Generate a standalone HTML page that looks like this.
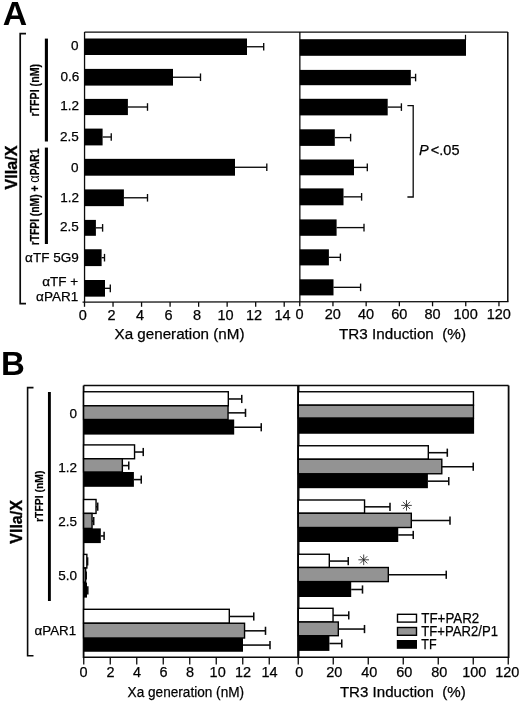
<!DOCTYPE html>
<html lang="en"><head><meta charset="utf-8"><title>Figure</title>
<style>
html,body{margin:0;padding:0;background:#fff;}
svg{display:block;font-family:'Liberation Sans', Arial, Helvetica, sans-serif;fill:#000;}
</style></head>
<body>
<svg width="520" height="703" viewBox="0 0 520 703" font-family='&quot;Liberation Sans&quot;, Arial, Helvetica, sans-serif'>
<rect x="0" y="0" width="520" height="703" fill="#fff" stroke="none"/>
<text x="2.7" y="24.8" font-size="33.8" font-weight="bold">A</text>
<polyline points="26,33.7 20.2,33.7 20.2,303.6 26,303.6" fill="none" stroke="#0a0a0a" stroke-width="1.7"/>
<line x1="46.4" y1="38.6" x2="46.4" y2="141.5" stroke="#000" stroke-width="3.1"/>
<line x1="46.4" y1="147.6" x2="46.4" y2="244" stroke="#000" stroke-width="3.1"/>
<text x="16.6" y="189.4" font-size="16" font-weight="bold" textLength="43.8" lengthAdjust="spacingAndGlyphs" transform="rotate(-90 16.6 189.4)" stroke="#000" stroke-width="0.35">VIIa/X</text>
<text x="39.3" y="116.6" font-size="12" font-weight="bold" textLength="52.7" lengthAdjust="spacingAndGlyphs" transform="rotate(-90 39.3 116.6)" stroke="#000" stroke-width="0.2">rTFPI (nM)</text>
<text x="39.4" y="245.3" font-size="12" font-weight="bold" textLength="96.8" lengthAdjust="spacingAndGlyphs" transform="rotate(-90 39.4 245.3)" stroke="#000" stroke-width="0.2">rTFPI (nM) + <tspan font-weight="normal" stroke="none" font-size="15">α</tspan>PAR1</text>
<text x="78.4" y="50" font-size="13.5" text-anchor="end" stroke="#000" stroke-width="0.25">0</text>
<text x="79.2" y="81" font-size="13.5" text-anchor="end" stroke="#000" stroke-width="0.25">0.6</text>
<text x="79.0" y="110" font-size="13.5" text-anchor="end" stroke="#000" stroke-width="0.25">1.2</text>
<text x="78.9" y="141.0" font-size="13.5" text-anchor="end" stroke="#000" stroke-width="0.25">2.5</text>
<text x="78.4" y="172.4" font-size="13.5" text-anchor="end" stroke="#000" stroke-width="0.25">0</text>
<text x="79.0" y="202" font-size="13.5" text-anchor="end" stroke="#000" stroke-width="0.25">1.2</text>
<text x="78.9" y="231.4" font-size="13.5" text-anchor="end" stroke="#000" stroke-width="0.25">2.5</text>
<text x="78.7" y="261.7" font-size="13.5" text-anchor="end" stroke="#000" stroke-width="0.25">αTF 5G9</text>
<text x="78.2" y="286.2" font-size="13.5" text-anchor="end" stroke="#000" stroke-width="0.25">αTF +</text>
<text x="78.2" y="300.8" font-size="13.5" text-anchor="end" stroke="#000" stroke-width="0.25">αPAR1</text>
<line x1="84.55" y1="32.1" x2="507.8" y2="32.1" stroke="#0a0a0a" stroke-width="1.3"/>
<line x1="84.55" y1="32.1" x2="84.55" y2="302.1" stroke="#0a0a0a" stroke-width="1.3"/>
<line x1="507.8" y1="32.1" x2="507.8" y2="301.6" stroke="#0a0a0a" stroke-width="1.5"/>
<line x1="82.55" y1="302.1" x2="508.5" y2="301.6" stroke="#0a0a0a" stroke-width="1.3"/>
<line x1="299.85" y1="32.1" x2="299.85" y2="302.1" stroke="#0a0a0a" stroke-width="1.3"/>
<rect x="84.55" y="38.50" width="162.45" height="16.50" fill="#000"/>
<line x1="247" y1="46.75" x2="263.7" y2="46.75" stroke="#0a0a0a" stroke-width="1.35"/>
<line x1="263.7" y1="42.95" x2="263.7" y2="50.55" stroke="#0a0a0a" stroke-width="1.35"/>
<rect x="84.55" y="68.90" width="88.45" height="16.70" fill="#000"/>
<line x1="173" y1="77.25" x2="200.5" y2="77.25" stroke="#0a0a0a" stroke-width="1.35"/>
<line x1="200.5" y1="73.45" x2="200.5" y2="81.05" stroke="#0a0a0a" stroke-width="1.35"/>
<rect x="84.55" y="98.90" width="43.35" height="16.20" fill="#000"/>
<line x1="127.9" y1="107.0" x2="147.5" y2="107.0" stroke="#0a0a0a" stroke-width="1.35"/>
<line x1="147.5" y1="103.2" x2="147.5" y2="110.8" stroke="#0a0a0a" stroke-width="1.35"/>
<rect x="84.55" y="128.60" width="18.05" height="16.80" fill="#000"/>
<line x1="102.6" y1="137.0" x2="111.25" y2="137.0" stroke="#0a0a0a" stroke-width="1.35"/>
<line x1="111.25" y1="133.2" x2="111.25" y2="140.8" stroke="#0a0a0a" stroke-width="1.35"/>
<rect x="84.55" y="158.85" width="150.45" height="16.85" fill="#000"/>
<line x1="235" y1="167.27499999999998" x2="266.8" y2="167.27499999999998" stroke="#0a0a0a" stroke-width="1.35"/>
<line x1="266.8" y1="163.47499999999997" x2="266.8" y2="171.075" stroke="#0a0a0a" stroke-width="1.35"/>
<rect x="84.55" y="189.40" width="39.35" height="16.75" fill="#000"/>
<line x1="123.9" y1="197.775" x2="147.5" y2="197.775" stroke="#0a0a0a" stroke-width="1.35"/>
<line x1="147.5" y1="193.975" x2="147.5" y2="201.57500000000002" stroke="#0a0a0a" stroke-width="1.35"/>
<rect x="84.55" y="219.90" width="11.35" height="15.90" fill="#000"/>
<line x1="95.9" y1="227.85000000000002" x2="102.6" y2="227.85000000000002" stroke="#0a0a0a" stroke-width="1.35"/>
<line x1="102.6" y1="224.05" x2="102.6" y2="231.65000000000003" stroke="#0a0a0a" stroke-width="1.35"/>
<rect x="84.55" y="249.25" width="17.05" height="16.85" fill="#000"/>
<line x1="101.6" y1="257.675" x2="104.5" y2="257.675" stroke="#0a0a0a" stroke-width="1.35"/>
<line x1="104.5" y1="253.875" x2="104.5" y2="261.475" stroke="#0a0a0a" stroke-width="1.35"/>
<rect x="84.55" y="280.00" width="20.45" height="16.65" fill="#000"/>
<line x1="105" y1="288.325" x2="110.3" y2="288.325" stroke="#0a0a0a" stroke-width="1.35"/>
<line x1="110.3" y1="284.525" x2="110.3" y2="292.125" stroke="#0a0a0a" stroke-width="1.35"/>
<rect x="299.85" y="39.20" width="166.15" height="16.60" fill="#000"/>
<rect x="299.85" y="69.90" width="110.95" height="15.30" fill="#000"/>
<line x1="410.8" y1="77.55000000000001" x2="415.6" y2="77.55000000000001" stroke="#0a0a0a" stroke-width="1.35"/>
<line x1="415.6" y1="73.75000000000001" x2="415.6" y2="81.35000000000001" stroke="#0a0a0a" stroke-width="1.35"/>
<rect x="299.85" y="98.80" width="87.85" height="16.60" fill="#000"/>
<line x1="387.7" y1="107.1" x2="401.4" y2="107.1" stroke="#0a0a0a" stroke-width="1.35"/>
<line x1="401.4" y1="103.3" x2="401.4" y2="110.89999999999999" stroke="#0a0a0a" stroke-width="1.35"/>
<rect x="299.85" y="129.30" width="34.95" height="16.60" fill="#000"/>
<line x1="334.8" y1="137.60000000000002" x2="350.6" y2="137.60000000000002" stroke="#0a0a0a" stroke-width="1.35"/>
<line x1="350.6" y1="133.8" x2="350.6" y2="141.40000000000003" stroke="#0a0a0a" stroke-width="1.35"/>
<rect x="299.85" y="159.50" width="54.15" height="15.80" fill="#000"/>
<line x1="354" y1="167.4" x2="367.3" y2="167.4" stroke="#0a0a0a" stroke-width="1.35"/>
<line x1="367.3" y1="163.6" x2="367.3" y2="171.20000000000002" stroke="#0a0a0a" stroke-width="1.35"/>
<rect x="299.85" y="188.40" width="43.65" height="16.90" fill="#000"/>
<line x1="343.5" y1="196.85000000000002" x2="361.6" y2="196.85000000000002" stroke="#0a0a0a" stroke-width="1.35"/>
<line x1="361.6" y1="193.05" x2="361.6" y2="200.65000000000003" stroke="#0a0a0a" stroke-width="1.35"/>
<rect x="299.85" y="219.40" width="36.75" height="16.40" fill="#000"/>
<line x1="336.6" y1="227.60000000000002" x2="364" y2="227.60000000000002" stroke="#0a0a0a" stroke-width="1.35"/>
<line x1="364" y1="223.8" x2="364" y2="231.40000000000003" stroke="#0a0a0a" stroke-width="1.35"/>
<rect x="299.85" y="249.30" width="29.05" height="16.10" fill="#000"/>
<line x1="328.9" y1="257.35" x2="340.4" y2="257.35" stroke="#0a0a0a" stroke-width="1.35"/>
<line x1="340.4" y1="253.55" x2="340.4" y2="261.15000000000003" stroke="#0a0a0a" stroke-width="1.35"/>
<rect x="299.85" y="279.30" width="33.65" height="16.10" fill="#000"/>
<line x1="333.5" y1="287.35" x2="360.6" y2="287.35" stroke="#0a0a0a" stroke-width="1.35"/>
<line x1="360.6" y1="283.55" x2="360.6" y2="291.15000000000003" stroke="#0a0a0a" stroke-width="1.35"/>
<line x1="465.5" y1="34.8" x2="465.5" y2="40" stroke="#0a0a0a" stroke-width="1.2"/>
<polyline points="407.4,105.7 413.2,105.7 413.2,197 407.4,197" fill="none" stroke="#0a0a0a" stroke-width="1.3"/>
<text x="419" y="154.8" font-size="14.5" stroke="#000" stroke-width="0.25"><tspan font-style="italic">P</tspan><tspan dx="2.2">&lt;.05</tspan></text>
<line x1="84.5" y1="302.1" x2="84.5" y2="306.8" stroke="#0a0a0a" stroke-width="1.3"/>
<text x="82.9" y="320.0" font-size="14.5" text-anchor="middle" stroke="#000" stroke-width="0.25">0</text>
<line x1="113.03" y1="302.1" x2="113.03" y2="306.8" stroke="#0a0a0a" stroke-width="1.3"/>
<text x="111.43" y="319.94" font-size="14.5" text-anchor="middle" stroke="#000" stroke-width="0.25">2</text>
<line x1="141.56" y1="302.1" x2="141.56" y2="306.8" stroke="#0a0a0a" stroke-width="1.3"/>
<text x="139.96" y="319.88" font-size="14.5" text-anchor="middle" stroke="#000" stroke-width="0.25">4</text>
<line x1="170.09" y1="302.1" x2="170.09" y2="306.8" stroke="#0a0a0a" stroke-width="1.3"/>
<text x="168.49" y="319.83" font-size="14.5" text-anchor="middle" stroke="#000" stroke-width="0.25">6</text>
<line x1="198.62" y1="302.1" x2="198.62" y2="306.8" stroke="#0a0a0a" stroke-width="1.3"/>
<text x="197.02" y="319.77" font-size="14.5" text-anchor="middle" stroke="#000" stroke-width="0.25">8</text>
<line x1="227.15" y1="302.1" x2="227.15" y2="306.8" stroke="#0a0a0a" stroke-width="1.3"/>
<text x="225.55" y="319.71" font-size="14.5" text-anchor="middle" stroke="#000" stroke-width="0.25">10</text>
<line x1="255.68" y1="302.1" x2="255.68" y2="306.8" stroke="#0a0a0a" stroke-width="1.3"/>
<text x="254.08" y="319.66" font-size="14.5" text-anchor="middle" stroke="#000" stroke-width="0.25">12</text>
<line x1="284.21000000000004" y1="302.1" x2="284.21000000000004" y2="306.8" stroke="#0a0a0a" stroke-width="1.3"/>
<text x="282.61" y="319.6" font-size="14.5" text-anchor="middle" stroke="#000" stroke-width="0.25">14</text>
<line x1="299.75" y1="301.70000000000005" x2="299.75" y2="306.3" stroke="#0a0a0a" stroke-width="1.3"/>
<text x="299.65" y="318.85" font-size="14.5" text-anchor="middle" stroke="#000" stroke-width="0.25">0</text>
<line x1="332.95" y1="301.70000000000005" x2="332.95" y2="306.3" stroke="#0a0a0a" stroke-width="1.3"/>
<text x="332.84999999999997" y="318.85" font-size="14.5" text-anchor="middle" stroke="#000" stroke-width="0.25">20</text>
<line x1="366.15" y1="301.70000000000005" x2="366.15" y2="306.3" stroke="#0a0a0a" stroke-width="1.3"/>
<text x="366.04999999999995" y="318.85" font-size="14.5" text-anchor="middle" stroke="#000" stroke-width="0.25">40</text>
<line x1="399.35" y1="301.70000000000005" x2="399.35" y2="306.3" stroke="#0a0a0a" stroke-width="1.3"/>
<text x="399.25" y="318.85" font-size="14.5" text-anchor="middle" stroke="#000" stroke-width="0.25">60</text>
<line x1="432.55" y1="301.70000000000005" x2="432.55" y2="306.3" stroke="#0a0a0a" stroke-width="1.3"/>
<text x="432.45" y="318.85" font-size="14.5" text-anchor="middle" stroke="#000" stroke-width="0.25">80</text>
<line x1="465.75" y1="301.70000000000005" x2="465.75" y2="306.3" stroke="#0a0a0a" stroke-width="1.3"/>
<text x="465.65" y="318.85" font-size="14.5" text-anchor="middle" stroke="#000" stroke-width="0.25">100</text>
<line x1="498.95000000000005" y1="301.70000000000005" x2="498.95000000000005" y2="306.3" stroke="#0a0a0a" stroke-width="1.3"/>
<text x="498.85" y="318.85" font-size="14.5" text-anchor="middle" stroke="#000" stroke-width="0.25">120</text>
<text x="114.5" y="338.5" font-size="15.2" textLength="130" lengthAdjust="spacingAndGlyphs" stroke="#000" stroke-width="0.25">Xa generation (nM)</text>
<text x="339" y="338.8" font-size="15.2" textLength="127" lengthAdjust="spacingAndGlyphs" xml:space="preserve" stroke="#000" stroke-width="0.25">TR3 Induction  (%)</text>
<text x="1.1" y="375.2" font-size="33" font-weight="bold">B</text>
<polyline points="33.5,387.6 27.6,387.6 27.6,655.8 33.5,655.8" fill="none" stroke="#0a0a0a" stroke-width="1.6"/>
<line x1="49.4" y1="392" x2="49.4" y2="601" stroke="#000" stroke-width="2.9"/>
<text x="22" y="543.8" font-size="16" font-weight="bold" textLength="43.8" lengthAdjust="spacingAndGlyphs" transform="rotate(-90 22 543.8)" stroke="#000" stroke-width="0.35">VIIa/X</text>
<text x="42.6" y="522" font-size="11.5" font-weight="bold" textLength="51.5" lengthAdjust="spacingAndGlyphs" transform="rotate(-90 42.6 522)" stroke="#000" stroke-width="0.2">rTFPI (nM)</text>
<text x="77" y="417.6" font-size="13.5" text-anchor="end" stroke="#000" stroke-width="0.25">0</text>
<text x="77" y="472.4" font-size="13.5" text-anchor="end" stroke="#000" stroke-width="0.25">1.2</text>
<text x="77" y="526.0" font-size="13.5" text-anchor="end" stroke="#000" stroke-width="0.25">2.5</text>
<text x="77" y="580.3" font-size="13.5" text-anchor="end" stroke="#000" stroke-width="0.25">5.0</text>
<text x="76.2" y="634.7" font-size="13.5" text-anchor="end" textLength="41.6" lengthAdjust="spacingAndGlyphs" stroke="#000" stroke-width="0.25">αPAR1</text>
<line x1="83.6" y1="385.5" x2="508.6" y2="385.5" stroke="#0a0a0a" stroke-width="1.4"/>
<line x1="83.6" y1="385.5" x2="83.6" y2="658.0" stroke="#0a0a0a" stroke-width="1.8"/>
<line x1="508.6" y1="385.5" x2="508.6" y2="658.0" stroke="#0a0a0a" stroke-width="1.8"/>
<line x1="83.6" y1="657.3" x2="508.6" y2="657.3" stroke="#0a0a0a" stroke-width="1.5"/>
<line x1="298.3" y1="385.5" x2="298.3" y2="657.3" stroke="#0a0a0a" stroke-width="2.4"/>
<rect x="83.60" y="391.75" width="144.70" height="14.05" fill="#fff" stroke="#000" stroke-width="1.4"/>
<line x1="228.25" y1="398.97499999999997" x2="241.75" y2="398.97499999999997" stroke="#0a0a0a" stroke-width="1.55"/>
<line x1="241.75" y1="394.87499999999994" x2="241.75" y2="403.075" stroke="#0a0a0a" stroke-width="1.55"/>
<rect x="83.60" y="405.80" width="144.45" height="13.70" fill="#939393" stroke="#000" stroke-width="1.4"/>
<line x1="228" y1="412.84999999999997" x2="245.5" y2="412.84999999999997" stroke="#0a0a0a" stroke-width="1.55"/>
<line x1="245.5" y1="408.74999999999994" x2="245.5" y2="416.95" stroke="#0a0a0a" stroke-width="1.55"/>
<rect x="83.60" y="419.50" width="150.60" height="15.10" fill="#000"/>
<line x1="234.2" y1="427.25" x2="261.25" y2="427.25" stroke="#0a0a0a" stroke-width="1.55"/>
<line x1="261.25" y1="423.15" x2="261.25" y2="431.35" stroke="#0a0a0a" stroke-width="1.55"/>
<rect x="83.60" y="444.90" width="50.95" height="13.85" fill="#fff" stroke="#000" stroke-width="1.4"/>
<line x1="134.5" y1="452.025" x2="143.25" y2="452.025" stroke="#0a0a0a" stroke-width="1.55"/>
<line x1="143.25" y1="447.92499999999995" x2="143.25" y2="456.125" stroke="#0a0a0a" stroke-width="1.55"/>
<rect x="83.60" y="458.75" width="38.75" height="13.25" fill="#939393" stroke="#000" stroke-width="1.4"/>
<line x1="122.3" y1="465.575" x2="128.75" y2="465.575" stroke="#0a0a0a" stroke-width="1.55"/>
<line x1="128.75" y1="461.47499999999997" x2="128.75" y2="469.675" stroke="#0a0a0a" stroke-width="1.55"/>
<rect x="83.60" y="472.00" width="50.30" height="14.80" fill="#000"/>
<line x1="133.9" y1="479.59999999999997" x2="141.25" y2="479.59999999999997" stroke="#0a0a0a" stroke-width="1.55"/>
<line x1="141.25" y1="475.49999999999994" x2="141.25" y2="483.7" stroke="#0a0a0a" stroke-width="1.55"/>
<rect x="83.60" y="499.50" width="12.45" height="13.90" fill="#fff" stroke="#000" stroke-width="1.4"/>
<line x1="96" y1="506.65" x2="97.7" y2="506.65" stroke="#0a0a0a" stroke-width="1.55"/>
<line x1="97.7" y1="502.54999999999995" x2="97.7" y2="510.75" stroke="#0a0a0a" stroke-width="1.55"/>
<rect x="83.60" y="513.40" width="8.45" height="15.00" fill="#939393" stroke="#000" stroke-width="1.4"/>
<line x1="92" y1="521.1" x2="93.7" y2="521.1" stroke="#0a0a0a" stroke-width="1.55"/>
<line x1="93.7" y1="517.0" x2="93.7" y2="525.2" stroke="#0a0a0a" stroke-width="1.55"/>
<rect x="83.60" y="528.40" width="17.20" height="14.70" fill="#000"/>
<line x1="100.8" y1="535.95" x2="104.1" y2="535.95" stroke="#0a0a0a" stroke-width="1.55"/>
<line x1="104.1" y1="531.85" x2="104.1" y2="540.0500000000001" stroke="#0a0a0a" stroke-width="1.55"/>
<rect x="83.60" y="554.40" width="3.25" height="13.60" fill="#fff" stroke="#000" stroke-width="1.4"/>
<line x1="86.8" y1="561.4000000000001" x2="87.6" y2="561.4000000000001" stroke="#0a0a0a" stroke-width="1.55"/>
<line x1="87.6" y1="557.3000000000001" x2="87.6" y2="565.5000000000001" stroke="#0a0a0a" stroke-width="1.55"/>
<rect x="83.60" y="568.00" width="2.05" height="14.60" fill="#939393" stroke="#000" stroke-width="1.4"/>
<line x1="85.6" y1="575.5" x2="86.2" y2="575.5" stroke="#0a0a0a" stroke-width="1.55"/>
<line x1="86.2" y1="571.4" x2="86.2" y2="579.6" stroke="#0a0a0a" stroke-width="1.55"/>
<rect x="83.60" y="582.60" width="3.40" height="15.00" fill="#000"/>
<line x1="87" y1="590.3000000000001" x2="87.8" y2="590.3000000000001" stroke="#0a0a0a" stroke-width="1.55"/>
<line x1="87.8" y1="586.2" x2="87.8" y2="594.4000000000001" stroke="#0a0a0a" stroke-width="1.55"/>
<rect x="83.60" y="609.30" width="145.70" height="13.95" fill="#fff" stroke="#000" stroke-width="1.4"/>
<line x1="229.25" y1="616.475" x2="253.75" y2="616.475" stroke="#0a0a0a" stroke-width="1.55"/>
<line x1="253.75" y1="612.375" x2="253.75" y2="620.575" stroke="#0a0a0a" stroke-width="1.55"/>
<rect x="83.60" y="623.25" width="160.95" height="14.75" fill="#939393" stroke="#000" stroke-width="1.4"/>
<line x1="244.5" y1="630.825" x2="265.5" y2="630.825" stroke="#0a0a0a" stroke-width="1.55"/>
<line x1="265.5" y1="626.725" x2="265.5" y2="634.9250000000001" stroke="#0a0a0a" stroke-width="1.55"/>
<rect x="83.60" y="638.00" width="159.40" height="13.75" fill="#000"/>
<line x1="243" y1="645.075" x2="270" y2="645.075" stroke="#0a0a0a" stroke-width="1.55"/>
<line x1="270" y1="640.975" x2="270" y2="649.1750000000001" stroke="#0a0a0a" stroke-width="1.55"/>
<rect x="298.30" y="391.75" width="175.15" height="13.45" fill="#fff" stroke="#000" stroke-width="1.4"/>
<rect x="298.30" y="405.20" width="175.15" height="12.80" fill="#939393" stroke="#000" stroke-width="1.4"/>
<rect x="298.30" y="418.00" width="175.80" height="15.75" fill="#000"/>
<rect x="298.30" y="445.75" width="130.00" height="13.50" fill="#fff" stroke="#000" stroke-width="1.4"/>
<line x1="428.25" y1="452.7" x2="447.3" y2="452.7" stroke="#0a0a0a" stroke-width="1.55"/>
<line x1="447.3" y1="448.59999999999997" x2="447.3" y2="456.8" stroke="#0a0a0a" stroke-width="1.55"/>
<rect x="298.30" y="459.25" width="143.50" height="14.50" fill="#939393" stroke="#000" stroke-width="1.4"/>
<line x1="441.75" y1="466.7" x2="473.25" y2="466.7" stroke="#0a0a0a" stroke-width="1.55"/>
<line x1="473.25" y1="462.59999999999997" x2="473.25" y2="470.8" stroke="#0a0a0a" stroke-width="1.55"/>
<rect x="298.30" y="473.75" width="129.60" height="14.45" fill="#000"/>
<line x1="427.9" y1="481.175" x2="448.75" y2="481.175" stroke="#0a0a0a" stroke-width="1.55"/>
<line x1="448.75" y1="477.075" x2="448.75" y2="485.27500000000003" stroke="#0a0a0a" stroke-width="1.55"/>
<rect x="298.30" y="500.00" width="66.25" height="13.25" fill="#fff" stroke="#000" stroke-width="1.4"/>
<line x1="364.5" y1="506.825" x2="390" y2="506.825" stroke="#0a0a0a" stroke-width="1.55"/>
<line x1="390" y1="502.72499999999997" x2="390" y2="510.925" stroke="#0a0a0a" stroke-width="1.55"/>
<rect x="298.30" y="513.25" width="113.00" height="14.25" fill="#939393" stroke="#000" stroke-width="1.4"/>
<line x1="411.25" y1="520.575" x2="450" y2="520.575" stroke="#0a0a0a" stroke-width="1.55"/>
<line x1="450" y1="516.475" x2="450" y2="524.6750000000001" stroke="#0a0a0a" stroke-width="1.55"/>
<rect x="298.30" y="527.50" width="99.95" height="14.50" fill="#000"/>
<line x1="398.25" y1="534.95" x2="413.25" y2="534.95" stroke="#0a0a0a" stroke-width="1.55"/>
<line x1="413.25" y1="530.85" x2="413.25" y2="539.0500000000001" stroke="#0a0a0a" stroke-width="1.55"/>
<rect x="298.30" y="554.25" width="31.00" height="13.25" fill="#fff" stroke="#000" stroke-width="1.4"/>
<line x1="329.25" y1="561.075" x2="348.25" y2="561.075" stroke="#0a0a0a" stroke-width="1.55"/>
<line x1="348.25" y1="556.975" x2="348.25" y2="565.1750000000001" stroke="#0a0a0a" stroke-width="1.55"/>
<rect x="298.30" y="567.50" width="90.00" height="14.10" fill="#939393" stroke="#000" stroke-width="1.4"/>
<line x1="388.25" y1="574.75" x2="446.25" y2="574.75" stroke="#0a0a0a" stroke-width="1.55"/>
<line x1="446.25" y1="570.65" x2="446.25" y2="578.85" stroke="#0a0a0a" stroke-width="1.55"/>
<rect x="298.30" y="581.60" width="52.90" height="15.40" fill="#000"/>
<line x1="351.2" y1="589.5" x2="362.5" y2="589.5" stroke="#0a0a0a" stroke-width="1.55"/>
<line x1="362.5" y1="585.4" x2="362.5" y2="593.6" stroke="#0a0a0a" stroke-width="1.55"/>
<rect x="298.30" y="608.30" width="34.75" height="13.70" fill="#fff" stroke="#000" stroke-width="1.4"/>
<line x1="333" y1="615.35" x2="348.75" y2="615.35" stroke="#0a0a0a" stroke-width="1.55"/>
<line x1="348.75" y1="611.25" x2="348.75" y2="619.45" stroke="#0a0a0a" stroke-width="1.55"/>
<rect x="298.30" y="622.00" width="40.00" height="13.70" fill="#939393" stroke="#000" stroke-width="1.4"/>
<line x1="338.25" y1="629.0500000000001" x2="364.5" y2="629.0500000000001" stroke="#0a0a0a" stroke-width="1.55"/>
<line x1="364.5" y1="624.95" x2="364.5" y2="633.1500000000001" stroke="#0a0a0a" stroke-width="1.55"/>
<rect x="298.30" y="635.70" width="31.10" height="15.20" fill="#000"/>
<line x1="329.4" y1="643.5" x2="341.75" y2="643.5" stroke="#0a0a0a" stroke-width="1.55"/>
<line x1="341.75" y1="639.4" x2="341.75" y2="647.6" stroke="#0a0a0a" stroke-width="1.55"/>
<line x1="406.5" y1="500.1" x2="406.5" y2="510.7" stroke="#222" stroke-width="0.85"/>
<line x1="401.2" y1="505.4" x2="411.8" y2="505.4" stroke="#222" stroke-width="0.85"/>
<line x1="402.94" y1="501.84" x2="410.06" y2="508.96" stroke="#222" stroke-width="0.85"/>
<line x1="410.06" y1="501.84" x2="402.94" y2="508.96" stroke="#222" stroke-width="0.85"/>
<line x1="363.7" y1="554.5" x2="363.7" y2="565.1" stroke="#222" stroke-width="0.85"/>
<line x1="358.4" y1="559.8" x2="369.0" y2="559.8" stroke="#222" stroke-width="0.85"/>
<line x1="360.14" y1="556.24" x2="367.26" y2="563.36" stroke="#222" stroke-width="0.85"/>
<line x1="367.26" y1="556.24" x2="360.14" y2="563.36" stroke="#222" stroke-width="0.85"/>
<rect x="397.50" y="614.30" width="19.00" height="7.80" fill="#fff" stroke="#000" stroke-width="1.4"/>
<rect x="397.50" y="627.50" width="19.00" height="7.80" fill="#939393" stroke="#000" stroke-width="1.4"/>
<rect x="396.80" y="640.00" width="20.20" height="8.80" fill="#000"/>
<text x="421.3" y="623.3" font-size="15.3" textLength="58" lengthAdjust="spacingAndGlyphs" stroke="#000" stroke-width="0.25">TF+PAR2</text>
<text x="421.3" y="636.3" font-size="15.3" textLength="76.7" lengthAdjust="spacingAndGlyphs" stroke="#000" stroke-width="0.25">TF+PAR2/P1</text>
<text x="421.3" y="648.8" font-size="15.3" textLength="15.3" lengthAdjust="spacingAndGlyphs" stroke="#000" stroke-width="0.25">TF</text>
<line x1="83.75" y1="657.3" x2="83.75" y2="664.6" stroke="#0a0a0a" stroke-width="1.3"/>
<text x="83.45" y="677.2" font-size="15.3" text-anchor="middle" textLength="8.06" lengthAdjust="spacingAndGlyphs" stroke="#000" stroke-width="0.25">0</text>
<line x1="110.25" y1="657.3" x2="110.25" y2="664.6" stroke="#0a0a0a" stroke-width="1.3"/>
<text x="110.55" y="677.2" font-size="15.3" text-anchor="middle" textLength="8.06" lengthAdjust="spacingAndGlyphs" stroke="#000" stroke-width="0.25">2</text>
<line x1="136.75" y1="657.3" x2="136.75" y2="664.6" stroke="#0a0a0a" stroke-width="1.3"/>
<text x="137.05" y="677.2" font-size="15.3" text-anchor="middle" textLength="8.06" lengthAdjust="spacingAndGlyphs" stroke="#000" stroke-width="0.25">4</text>
<line x1="163.25" y1="657.3" x2="163.25" y2="664.6" stroke="#0a0a0a" stroke-width="1.3"/>
<text x="163.55" y="677.2" font-size="15.3" text-anchor="middle" textLength="8.06" lengthAdjust="spacingAndGlyphs" stroke="#000" stroke-width="0.25">6</text>
<line x1="189.75" y1="657.3" x2="189.75" y2="664.6" stroke="#0a0a0a" stroke-width="1.3"/>
<text x="190.05" y="677.2" font-size="15.3" text-anchor="middle" textLength="8.06" lengthAdjust="spacingAndGlyphs" stroke="#000" stroke-width="0.25">8</text>
<line x1="216.25" y1="657.3" x2="216.25" y2="664.6" stroke="#0a0a0a" stroke-width="1.3"/>
<text x="217.65" y="677.2" font-size="15.3" text-anchor="middle" textLength="16.12" lengthAdjust="spacingAndGlyphs" stroke="#000" stroke-width="0.25">10</text>
<line x1="242.75" y1="657.3" x2="242.75" y2="664.6" stroke="#0a0a0a" stroke-width="1.3"/>
<text x="243.05" y="677.2" font-size="15.3" text-anchor="middle" textLength="16.12" lengthAdjust="spacingAndGlyphs" stroke="#000" stroke-width="0.25">12</text>
<line x1="269.25" y1="657.3" x2="269.25" y2="664.6" stroke="#0a0a0a" stroke-width="1.3"/>
<text x="269.55" y="677.2" font-size="15.3" text-anchor="middle" textLength="16.12" lengthAdjust="spacingAndGlyphs" stroke="#000" stroke-width="0.25">14</text>
<line x1="298.25" y1="657.3" x2="298.25" y2="664.6" stroke="#0a0a0a" stroke-width="1.3"/>
<text x="299.25" y="677.2" font-size="15.3" text-anchor="middle" textLength="8.06" lengthAdjust="spacingAndGlyphs" stroke="#000" stroke-width="0.25">0</text>
<line x1="333.25" y1="657.3" x2="333.25" y2="664.6" stroke="#0a0a0a" stroke-width="1.3"/>
<text x="334.25" y="677.2" font-size="15.3" text-anchor="middle" textLength="16.12" lengthAdjust="spacingAndGlyphs" stroke="#000" stroke-width="0.25">20</text>
<line x1="368.25" y1="657.3" x2="368.25" y2="664.6" stroke="#0a0a0a" stroke-width="1.3"/>
<text x="369.25" y="677.2" font-size="15.3" text-anchor="middle" textLength="16.12" lengthAdjust="spacingAndGlyphs" stroke="#000" stroke-width="0.25">40</text>
<line x1="403.25" y1="657.3" x2="403.25" y2="664.6" stroke="#0a0a0a" stroke-width="1.3"/>
<text x="404.25" y="677.2" font-size="15.3" text-anchor="middle" textLength="16.12" lengthAdjust="spacingAndGlyphs" stroke="#000" stroke-width="0.25">60</text>
<line x1="438.25" y1="657.3" x2="438.25" y2="664.6" stroke="#0a0a0a" stroke-width="1.3"/>
<text x="439.25" y="677.2" font-size="15.3" text-anchor="middle" textLength="16.12" lengthAdjust="spacingAndGlyphs" stroke="#000" stroke-width="0.25">80</text>
<line x1="473.25" y1="657.3" x2="473.25" y2="664.6" stroke="#0a0a0a" stroke-width="1.3"/>
<text x="474.25" y="677.2" font-size="15.3" text-anchor="middle" textLength="24.19" lengthAdjust="spacingAndGlyphs" stroke="#000" stroke-width="0.25">100</text>
<line x1="508.25" y1="657.3" x2="508.25" y2="664.6" stroke="#0a0a0a" stroke-width="1.3"/>
<text x="507.35" y="677.2" font-size="15.3" text-anchor="middle" textLength="24.19" lengthAdjust="spacingAndGlyphs" stroke="#000" stroke-width="0.25">120</text>
<text x="127.6" y="696.8" font-size="15.5" textLength="116.5" lengthAdjust="spacingAndGlyphs" stroke="#000" stroke-width="0.25">Xa generation (nM)</text>
<text x="339.9" y="696.8" font-size="15.3" textLength="125.8" lengthAdjust="spacingAndGlyphs" xml:space="preserve" stroke="#000" stroke-width="0.25">TR3 Induction  (%)</text>
</svg>
</body></html>
